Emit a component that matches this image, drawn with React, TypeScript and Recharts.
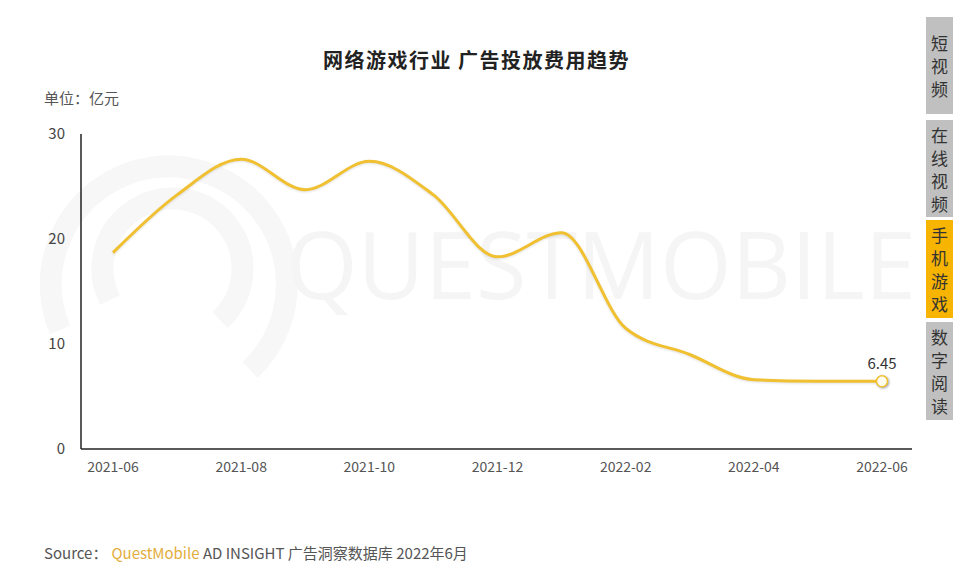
import React from 'react';
import { LineChart, Line, XAxis, YAxis, LabelList } from 'recharts';

const months = [
  '2021-06', '2021-07', '2021-08', '2021-09', '2021-10', '2021-11', '2021-12',
  '2022-01', '2022-02', '2022-03', '2022-04', '2022-05', '2022-06',
];
const spend = [18.7, 24.2, 27.6, 24.7, 27.4, 24.2, 18.3, 20.6, 11.5, 9.0, 6.6, 6.45, 6.45];
const yTicks = [0, 10, 20, 30];
const tabs = ['短视频', '在线视频', '手机游戏', '数字阅读'];
const activeTab = '手机游戏';

const LINE_COLOR = '#f0c030';
const FONT = '"Noto Sans CJK SC", "Noto Sans", sans-serif';

const chartData = months.map((m, i) => ({ month: m, value: spend[i] }));
const lastIndex = chartData.length - 1;

// only the last point gets a dot
const renderDot = (props: any) => {
  const { cx, cy, index } = props;
  if (index !== lastIndex) return <g key={`d-${index}`} />;
  return (
    <circle
      key={`d-${index}`}
      cx={cx}
      cy={cy}
      r={5.5}
      fill="#fffdf0"
      stroke={LINE_COLOR}
      strokeWidth={1.5}
      style={{ filter: 'drop-shadow(1px 1px 1px rgba(0,0,0,0.35))' }}
    />
  );
};

const renderLastLabel = (props: any) => {
  const { x, y, index, value } = props;
  if (index !== lastIndex) return null;
  return (
    <text x={x} y={y - 12} textAnchor="middle" fontSize={15} fill="#333" fontFamily={FONT}>
      {value}
    </text>
  );
};

const Watermark = () => (
  <svg width={953} height={574} style={{ position: 'absolute', left: 0, top: 0 }}>
    <g fill="none" stroke="#f7f7f7" strokeWidth={22}>
      <path d="M 60 330 A 118 118 0 1 1 250 370" />
      <path d="M 110 300 A 70 70 0 1 1 220 320" />
    </g>
    <text
      x={286}
      y={299}
      fontSize={94}
      fill="#f5f5f5"
      fontFamily='"Open Sans", sans-serif'
      textLength={630}
      lengthAdjust="spacingAndGlyphs"
    >
      QUESTMOBILE
    </text>
  </svg>
);

const SideTabs = () => {
  const tops = [17, 120, 220, 322];
  const heights = [97, 97, 98, 98];
  return (
    <>
      {tabs.map((t, i) => (
        <div
          key={t}
          style={{
            position: 'absolute',
            left: 926,
            top: tops[i],
            width: 27,
            height: heights[i],
            background: t === activeTab ? '#f7b400' : '#c0c0c0',
            color: '#333',
            fontFamily: FONT,
            fontSize: 17,
            lineHeight: '23px',
            display: 'flex',
            flexDirection: 'column',
            alignItems: 'center',
            justifyContent: 'center',
          }}
        >
          {t.split('').map((c, j) => (
            <span key={j}>{c}</span>
          ))}
        </div>
      ))}
    </>
  );
};

export default function App() {
  return (
    <div
      style={{
        position: 'absolute',
        left: 0,
        top: 0,
        width: 953,
        height: 574,
        background: '#fff',
        overflow: 'hidden',
        fontFamily: FONT,
      }}
    >
      <Watermark />
      <div
        style={{
          position: 'absolute',
          left: 0,
          width: 953,
          top: 45,
          textAlign: 'center',
          fontSize: 20,
          letterSpacing: 1.5,
          fontWeight: 700,
          color: '#222',
        }}
      >
        网络游戏行业 广告投放费用趋势
      </div>
      <div style={{ position: 'absolute', left: 44, top: 87, fontSize: 15, color: '#555' }}>
        单位：亿元
      </div>
      <div style={{ position: 'absolute', left: 0, top: 0 }}>
        <LineChart
          width={953}
          height={574}
          data={chartData}
          margin={{ top: 134, right: 41, bottom: 95, left: 0 }}
        >
          <XAxis
            dataKey="month"
            interval={1}
            padding={{ left: 32, right: 30 }}
            tickLine={false}
            tickSize={0}
            tickMargin={13}
            axisLine={{ stroke: '#222', strokeWidth: 1.5 }}
            tick={{ fill: '#555', fontSize: 14, fontFamily: FONT }}
            height={30}
          />
          <YAxis
            domain={[0, 30]}
            ticks={yTicks}
            width={81}
            tickLine={false}
            tickSize={0}
            tickMargin={16}
            axisLine={{ stroke: '#222', strokeWidth: 1.5 }}
            tick={{ fill: '#444', fontSize: 15, fontFamily: FONT }}
          />
          <Line
            type="monotone"
            dataKey="value"
            stroke={LINE_COLOR}
            strokeWidth={3}
            dot={renderDot}
            activeDot={false}
            isAnimationActive={false}
            style={{ filter: 'drop-shadow(0 1px 1px rgba(0,0,0,0.12))' }}
          >
            <LabelList dataKey="value" content={renderLastLabel} />
          </Line>
        </LineChart>
      </div>
      <SideTabs />
      <div style={{ position: 'absolute', left: 44, top: 542, fontSize: 15, color: '#555', whiteSpace: 'nowrap' }}>
        Source：
        <span style={{ color: '#e3ad3c', marginLeft: 4 }}>QuestMobile</span>
        <span> AD INSIGHT 广告洞察数据库 2022年6月</span>
      </div>
    </div>
  );
}
